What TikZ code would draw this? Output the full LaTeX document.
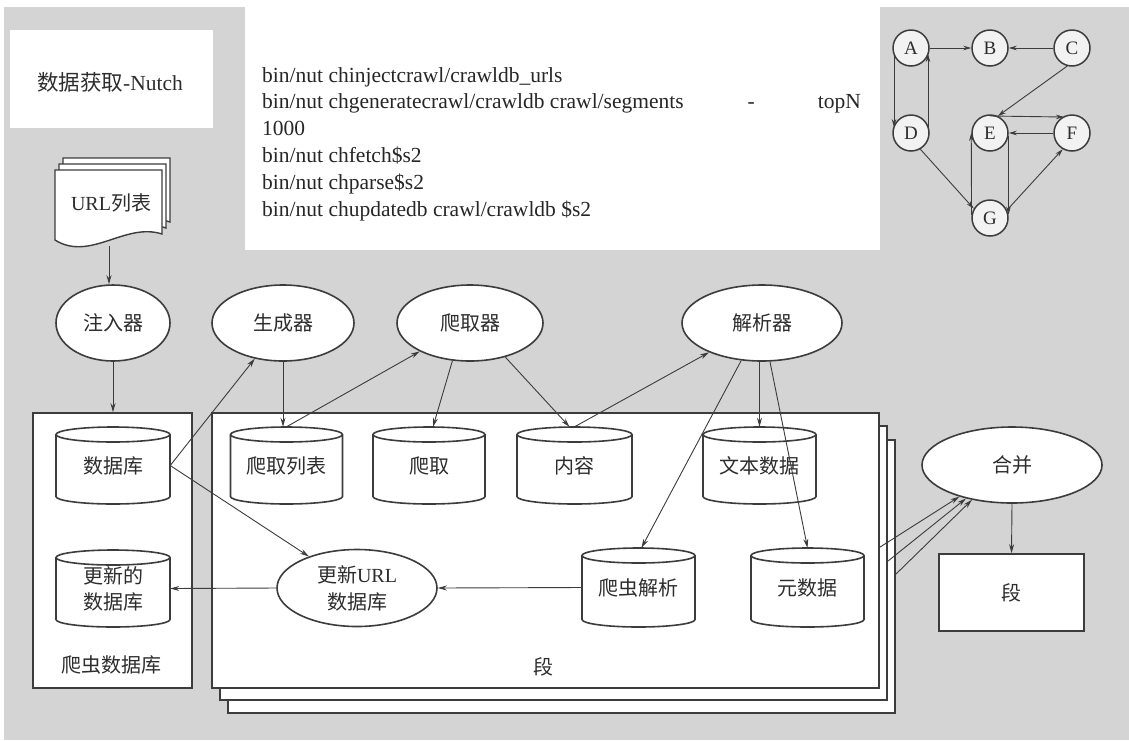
\documentclass[tikz,border=0pt]{standalone}
\usepackage{fontspec}
\setmainfont{Liberation Serif}
\newfontfamily\cjk{Noto Sans CJK SC}
\usetikzlibrary{arrows.meta,calc,shapes.geometric}
\definecolor{bg}{RGB}{212,212,212}
\definecolor{ln}{RGB}{60,60,60}
\definecolor{tx}{RGB}{45,45,45}

\newcommand\cylnode[6]{%
  \filldraw[shp,fill=white] ($(#2,#3)+(-#4/2,#5/2-7.5)$) -- ($(#2,#3)+(-#4/2,-#5/2+7.5)$)
     arc[start angle=180,end angle=360,x radius=#4/2,y radius=7.5]
     -- ($(#2,#3)+(#4/2,#5/2-7.5)$)
     arc[start angle=0,end angle=180,x radius=#4/2,y radius=7.5] -- cycle;
  \draw[shp] ($(#2,#3)+(-#4/2,#5/2-7.5)$) arc[start angle=180,end angle=360,x radius=#4/2,y radius=7.5];
  \node[cyltxt,minimum width=#4,minimum height=#5] (#1) at (#2,#3) {#6};
}

\begin{document}
\begin{tikzpicture}[x=1pt,y=1pt,
  shp/.style={draw=ln,line width=1.6pt},
  conn/.style={draw=ln,line width=0.9pt,-{Stealth[length=9pt,width=5pt]}},
  ell/.style={shp,ellipse,fill=white,inner sep=0pt,text=tx,font=\cjk\fontsize{20}{27}\selectfont,align=center},
  cyltxt/.style={inner sep=0pt,text=tx,font=\cjk\fontsize{20}{26}\selectfont,align=center},
  boxst/.style={shp,fill=white,inner sep=0pt,rectangle},
  gnode/.style={circle,draw=ln,line width=1.5pt,fill=gray!10,minimum size=36pt,inner sep=0pt,text=tx,font=\fontsize{19}{20}\selectfont},
  gedge/.style={draw=ln,line width=0.9pt,-{Stealth[length=8pt,width=4.5pt]}},
  lbl/.style={inner sep=0pt,text=tx,font=\cjk\fontsize{20}{24}\selectfont},
  cmd/.style={inner sep=0pt,text=black!85,font=\fontsize{21.5}{23}\selectfont,anchor=base west}
]
\useasboundingbox (0,0) rectangle (1129,-740);
\fill[white] (0,0) rectangle (1129,-740);
\fill[bg] (4,-7) rectangle (1129,-740);

% title and command boxes
\node[fill=white,minimum width=203pt,minimum height=98pt,inner sep=0pt] (titlebox) at (111.5,-79) {};
\node[lbl,font=\cjk\fontsize{21.5}{24}\selectfont] (title) at (110,-82) {数据获取{\rmfamily -Nutch}};
\node[fill=white,minimum width=635pt,minimum height=245pt,inner sep=0pt] (cmdbox) at (562.5,-127.5) {};
\node[cmd] (c1) at (262,-82) {bin/nut chinjectcrawl/crawldb\_urls};
\node[cmd] (c2) at (262,-108.8) {bin/nut chgeneratecrawl/crawldb crawl/segments\hspace{64pt}-\hspace{63pt}topN};
\node[cmd] (c3) at (262,-135.6) {1000};
\node[cmd] (c4) at (262,-162.4) {bin/nut chfetch\$s2};
\node[cmd] (c5) at (262,-189.2) {bin/nut chparse\$s2};
\node[cmd] (c6) at (262,-216) {bin/nut chupdatedb crawl/crawldb \$s2};

% graph
\node[gnode] (A) at (911,-48) {A};
\node[gnode] (B) at (990,-48) {B};
\node[gnode] (C) at (1072,-48) {C};
\node[gnode] (D) at (911,-133) {D};
\node[gnode] (E) at (990,-133) {E};
\node[gnode] (F) at (1072,-133) {F};
\node[gnode] (G) at (990,-218) {G};
\draw[gedge] (A) -- (B);
\draw[gedge] (C) -- (B);
\draw[gedge] ([xshift=-17pt,yshift=-6pt]A.center) -- ([xshift=-17pt,yshift=6pt]D.center);
\draw[gedge] ([xshift=17pt,yshift=6pt]D.center) -- ([xshift=17pt,yshift=-6pt]A.center);
\draw[gedge] (C.255) -- (E.65);
\draw[gedge] ([yshift=17pt]E.center) -- ([xshift=-8pt,yshift=16pt]F.center);
\draw[gedge] (F.west) -- (E.east);
\draw[gedge] (D.300) -- (G.150);
\draw[gedge] (G.170) -- (E.west);
\draw[gedge] (E.-10) -- (G.10);
\draw[gedge] (G.25) -- (F.240);

% URL list document stack
\foreach \s in {12,6,0}{
  \begin{scope}[shift={(\s*0.67,\s)}]
    \filldraw[draw=ln,line width=1.4pt,fill=white] (55,-170) -- (162,-170) -- (162,-234)
      .. controls (125,-222) and (90,-262) .. (55,-240) -- cycle;
  \end{scope}
}
\node[lbl] (urldoc) at (111,-203) {{\rmfamily URL}列表};
\coordinate (docbot) at (109,-246);

% top row ellipses
\node[ell,minimum width=114pt,minimum height=76pt] (inject) at (113,-323) {注入器};
\node[ell,minimum width=142pt,minimum height=76pt] (gen) at (283,-323) {生成器};
\node[ell,minimum width=146pt,minimum height=76pt] (fetcher) at (470,-323) {爬取器};
\node[ell,minimum width=160pt,minimum height=76pt] (parser) at (762,-323) {解析器};

% containers
\node[boxst,minimum width=159pt,minimum height=275pt] (crawlbox) at (112.5,-550.5) {};
\node[lbl] (crawllbl) at (111,-665) {爬虫数据库};
\node[boxst,minimum width=667pt,minimum height=273pt] (seg3) at (561.5,-576.5) {};
\node[boxst,minimum width=667pt,minimum height=274pt] (seg2) at (553.5,-563) {};
\node[boxst,minimum width=667pt,minimum height=275pt] (seg1) at (545.5,-550.5) {};
\node[lbl] (seglbl) at (543,-667) {段};

% cylinders
\cylnode{db}{113}{-465.5}{114}{77}{数据库}
\cylnode{newdb}{113}{-588.5}{114}{77}{更新的\\数据库}
\cylnode{fetchlist}{286.5}{-465.5}{112}{77}{爬取列表}
\cylnode{fetch}{429}{-465.5}{112}{77}{爬取}
\cylnode{content}{574.5}{-465.5}{115}{77}{内容}
\cylnode{textdata}{759.5}{-465.5}{113}{77}{文本数据}
\cylnode{parse}{638.5}{-587.5}{113}{79}{爬虫解析}
\cylnode{meta}{807.5}{-587.5}{113}{79}{元数据}

% lower ellipses and output
\node[ell,minimum width=160pt,minimum height=77pt] (upd) at (357,-588) {更新{\rmfamily URL}\\数据库};
\node[ell,minimum width=180pt,minimum height=76pt] (merge) at (1012,-465) {合并};
\node[boxst,lbl,minimum width=145pt,minimum height=77pt] (segout) at (1011.5,-592.5) {段};

% connectors
\draw[conn] (docbot) -- (docbot |- inject.north);
\draw[conn] (inject.south) -- (inject.south |- crawlbox.north);
\draw[conn] (db.east) -- (gen);
\draw[conn] (gen.south) -- (gen.south |- fetchlist.north);
\draw[conn] (fetchlist.north) -- (fetcher);
\draw[conn] (fetcher.245) -- ([xshift=4pt]fetch.north);
\draw[conn] (fetcher.316) -- ([xshift=-5pt]content.north);
\draw[conn] (content.north) -- (parser);
\draw[conn] (parser.241) -- ([xshift=3pt]parse.north);
\draw[conn] (parser.south -| textdata.north) -- (textdata.north);
\draw[conn] ([xshift=8pt]parser.south) -- (meta.north);
\draw[conn] (db.east) -- (upd);
\draw[conn] (parse.west) -- (upd.east);
\draw[conn] (upd.west) -- (newdb.east);
\draw[conn] ([yshift=-135pt]seg1.north east) -- (merge.211);
\draw[conn] ([yshift=-136pt]seg2.north east) -- (merge.216);
\draw[conn] ([yshift=-135pt]seg3.north east) -- (merge.221);
\draw[conn] (merge.south) -- (segout.north);
\end{tikzpicture}
\end{document}
